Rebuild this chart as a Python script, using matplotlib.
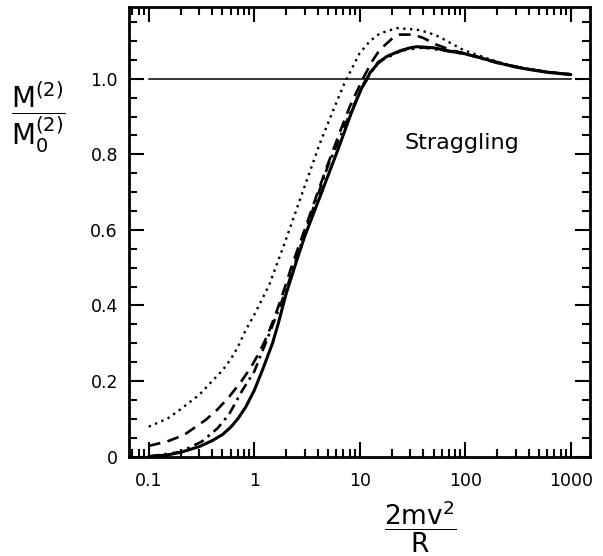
import matplotlib
matplotlib.use("Agg")
import matplotlib.pyplot as plt
from matplotlib.ticker import FixedLocator, FixedFormatter, LogLocator, NullFormatter, MultipleLocator

plt.rcParams['font.family'] = ['DejaVu Sans']
plt.rcParams['mathtext.fontset'] = 'dejavusans'

# data
solid_x = [0.1, 0.15, 0.2, 0.3, 0.4, 0.5, 0.6, 0.7, 0.834, 1.0, 1.2, 1.49, 1.7, 2.0, 2.5, 3.0, 4.32,
           6.2, 8.3, 10.4, 11.6, 12.5, 15, 18, 24, 30, 35, 50, 72, 100, 150, 200, 300, 415, 600, 1000]
solid_y = [0.0, 0.004, 0.011, 0.026, 0.042, 0.058, 0.078, 0.1, 0.132, 0.175, 0.23, 0.3, 0.355, 0.43,
           0.515, 0.582, 0.697, 0.812, 0.909, 0.975, 0.997, 1.016, 1.042, 1.059, 1.074, 1.082, 1.085,
           1.082, 1.073, 1.066, 1.053, 1.043, 1.031, 1.024, 1.017, 1.011]

dashed_x = [0.1, 0.15, 0.216, 0.347, 0.45, 0.578, 0.75, 0.93, 1.13, 1.34, 1.6, 1.86, 2.3, 3.0, 4.0,
            5.0, 6.5, 8.0, 10.7, 13, 15.5, 20, 24, 32, 40, 53.6, 75, 100, 150, 200, 300, 415, 600, 1000]
dashed_y = [0.028, 0.04, 0.057, 0.097, 0.125, 0.158, 0.198, 0.236, 0.278, 0.322, 0.378, 0.43, 0.51,
            0.6, 0.7, 0.775, 0.86, 0.925, 1.0, 1.045, 1.077, 1.105, 1.117, 1.117, 1.108, 1.09, 1.075,
            1.067, 1.054, 1.044, 1.032, 1.025, 1.018, 1.012]

dotted_x = [0.1, 0.15, 0.2, 0.3, 0.4, 0.5, 0.6, 0.7, 0.83, 1.0, 1.39, 2.0, 3.0, 4.2, 5.8, 7.2, 8.9,
            10, 12.5, 15.5, 22.4, 34.7, 45, 57.8, 72, 96, 150, 200, 300, 600, 1000]
dotted_y = [0.079, 0.1, 0.125, 0.163, 0.2, 0.228, 0.258, 0.29, 0.335, 0.375, 0.455, 0.575, 0.715,
            0.83, 0.927, 0.99, 1.04, 1.068, 1.1, 1.12, 1.134, 1.13, 1.122, 1.11, 1.095, 1.076, 1.057,
            1.045, 1.032, 1.018, 1.012]

dashdot_x = [0.1, 0.2, 0.32, 0.45, 0.578, 0.77, 1.0, 1.39, 2.0, 3.0, 5.0, 8.0, 11, 15, 25, 40,
             100, 200, 415, 1000]
dashdot_y = [0.0, 0.012, 0.04, 0.075, 0.112, 0.175, 0.225, 0.325, 0.44, 0.59, 0.77, 0.905, 0.99,
             1.045, 1.075, 1.083, 1.066, 1.042, 1.024, 1.011]

ref_x = [0.1, 1000]
ref_y = [1.0, 1.0]

x_ticks = [0.1, 1, 10, 100, 1000]
x_tick_labels = ["0.1", "1", "10", "100", "1000"]
y_ticks = [0, 0.2, 0.4, 0.6, 0.8, 1.0]
y_tick_labels = ["0", "0.2", "0.4", "0.6", "0.8", "1.0"]

fig = plt.figure(figsize=(6.03, 5.56), dpi=100)
ax = fig.add_axes([129/603, 1 - 456.5/556, (590-129)/603, (456.5-7)/556])

ax.plot(ref_x, ref_y, color='black', lw=1.1)
ax.plot(solid_x, solid_y, color='black', lw=2.2, solid_capstyle='round', solid_joinstyle='round')
ax.plot(dashed_x, dashed_y, color='black', lw=1.9, linestyle=(0, (4.5, 2.8)))
ax.plot(dotted_x, dotted_y, color='black', lw=1.7, linestyle=(0, (1, 1.9)))
ax.plot(dashdot_x, dashdot_y, color='black', lw=1.9, linestyle=(0, (4, 2, 1, 2)))

ax.set_xscale('log')
ax.set_xlim(0.065, 1520)
ax.set_ylim(0, 1.19)

ax.xaxis.set_major_locator(FixedLocator(x_ticks))
ax.xaxis.set_major_formatter(FixedFormatter(x_tick_labels))
ax.xaxis.set_minor_locator(LogLocator(base=10, subs=range(2, 10)))
ax.xaxis.set_minor_formatter(NullFormatter())
ax.yaxis.set_major_locator(FixedLocator(y_ticks))
ax.yaxis.set_major_formatter(FixedFormatter(y_tick_labels))
ax.yaxis.set_minor_locator(MultipleLocator(0.05))

ax.tick_params(which='both', direction='in', top=True, right=True, width=1.5, labelsize=12.5)
ax.tick_params(which='major', length=11)
ax.tick_params(which='minor', length=6)
ax.tick_params(axis='x', pad=11)
ax.tick_params(axis='y', pad=8)
for s in ax.spines.values():
    s.set_linewidth(2.0)

fig.text(462/603, 1 - 143/556, "Straggling", ha='center', va='center', fontsize=16)

fig.text(38/603, 1 - 117/556, r'$\dfrac{\mathrm{M}^{(2)}}{\mathrm{M}_0^{(2)}}$', ha='center', va='center', fontsize=20)
fig.text(420/603, 1 - 527/556, r'$\dfrac{2\mathrm{mv}^2}{\mathrm{R}}$', ha='center', va='center', fontsize=19)

fig.savefig("out.png", dpi=100)
